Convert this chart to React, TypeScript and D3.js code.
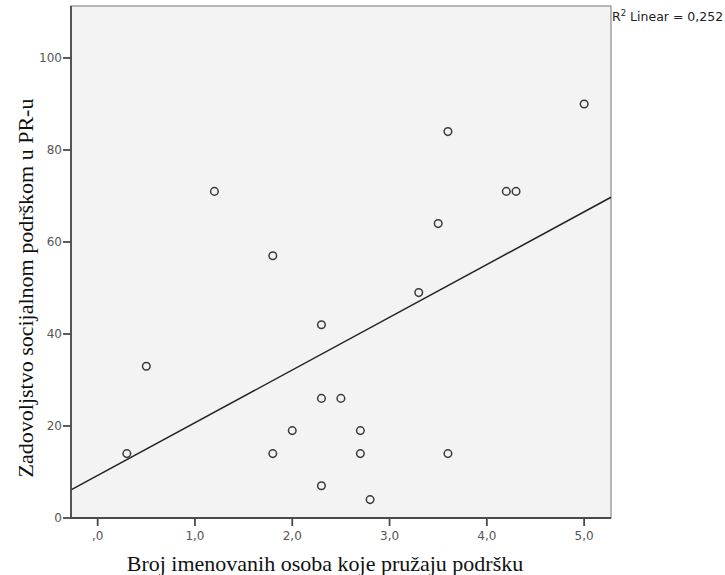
import React from "react";
import * as d3 from "d3";

// Number of named support persons vs. satisfaction with social support
const supportCount: number[] = [0.3, 0.5, 1.2, 1.8, 1.8, 2.0, 2.3, 2.3, 2.3, 2.5, 2.7, 2.7, 2.8, 3.3, 3.5, 3.6, 3.6, 4.2, 4.3, 5.0];
const satisfaction: number[] = [14, 33, 71, 57, 14, 19, 42, 26, 7, 26, 19, 14, 4, 49, 64, 84, 14, 71, 71, 90];

const xTicks: number[] = [0, 1, 2, 3, 4, 5];
const yTicks: number[] = [0, 20, 40, 60, 80, 100];

const xTitle = "Broj imenovanih osoba koje pružaju podršku";
const yTitle = "Zadovoljstvo socijalnom podrškom u PR-u";

const W = 725;
const H = 575;
const plot = { left: 71, right: 611, top: 6, bottom: 518 };

const fmtDecimal = (v: number) => {
  const s = d3.format(".1f")(v).replace(".", ",");
  return s.startsWith("0,") ? s.slice(1) : s;
};

export default function App() {
  const x = d3.scaleLinear().domain([-0.274, 5.276]).range([plot.left, plot.right]);
  const y = d3.scaleLinear().domain([0, 111.3]).range([plot.bottom, plot.top]);

  // ordinary least squares fit
  const mx = d3.mean(supportCount) as number;
  const my = d3.mean(satisfaction) as number;
  let sxy = 0, sxx = 0, syy = 0;
  supportCount.forEach((xv, i) => {
    const dx = xv - mx;
    const dy = satisfaction[i] - my;
    sxy += dx * dy;
    sxx += dx * dx;
    syy += dy * dy;
  });
  const slope = sxy / sxx;
  const intercept = my - slope * mx;
  const r2 = (sxy * sxy) / (sxx * syy);
  const [x0, x1] = x.domain();
  const fitLine = d3.line<number>().x((d) => x(d)).y((d) => y(intercept + slope * d))([x0, x1]) as string;

  const tickFont = "'DejaVu Sans', Verdana, sans-serif";
  const titleFont = "'Liberation Serif', 'Times New Roman', serif";

  return (
    <svg width={W} height={H} style={{ position: "absolute", left: 0, top: 0, background: "#fff" }}>
      <rect x={plot.left} y={plot.top} width={plot.right - plot.left} height={plot.bottom - plot.top} fill="#f3f3f3" stroke="#8c8c8c" strokeWidth={1.2} />

      <path d={fitLine} stroke="#222" strokeWidth={1.5} fill="none" />

      {supportCount.map((xv, i) => (
        <circle key={i} cx={x(xv)} cy={y(satisfaction[i])} r={3.8} fill="none" stroke="#3a3a3a" strokeWidth={1.5} />
      ))}

      {/* axes */}
      <line x1={plot.left} x2={plot.left} y1={plot.top} y2={plot.bottom} stroke="#4a4a4a" strokeWidth={1.8} />
      <line x1={plot.left} x2={plot.right} y1={plot.bottom} y2={plot.bottom} stroke="#4a4a4a" strokeWidth={1.8} />

      {yTicks.map((t) => (
        <g key={"y" + t}>
          <line x1={plot.left - 8} x2={plot.left} y1={y(t)} y2={y(t)} stroke="#4a4a4a" strokeWidth={1.8} />
          <text x={plot.left - 9} y={y(t)} dy="0.36em" textAnchor="end" fontFamily={tickFont} fontSize={12} fill="#555">
            {t}
          </text>
        </g>
      ))}

      {xTicks.map((t) => (
        <g key={"x" + t}>
          <line x1={x(t)} x2={x(t)} y1={plot.bottom} y2={plot.bottom + 8} stroke="#4a4a4a" strokeWidth={1.8} />
          <text x={x(t)} y={540} textAnchor="middle" fontFamily={tickFont} fontSize={12} fill="#555">
            {fmtDecimal(t)}
          </text>
        </g>
      ))}

      <text x={plot.right + 1} y={21} fontFamily={tickFont} fontSize={12.5} fill="#222">
        R<tspan fontSize={8.5} dy={-5}>2</tspan>
        <tspan dy={5}> Linear = {d3.format(".3f")(r2).replace(".", ",")}</tspan>
      </text>

      <text x={325} y={571} textAnchor="middle" fontFamily={titleFont} fontSize={22} fill="#111">
        {xTitle}
      </text>
      <text transform={`translate(33,288) rotate(-90)`} textAnchor="middle" fontFamily={titleFont} fontSize={22} fill="#111">
        {yTitle}
      </text>
    </svg>
  );
}
